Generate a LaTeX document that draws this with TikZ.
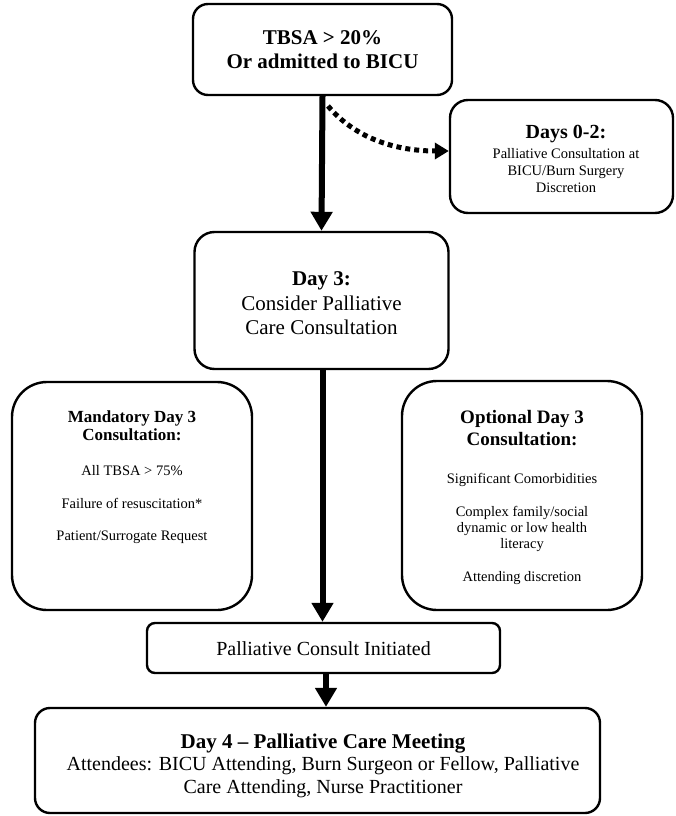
\documentclass[tikz,border=0pt]{standalone}
\usepackage{fontspec}
\setmainfont{Liberation Serif}
\usetikzlibrary{arrows.meta}
\newcommand\fBig{\fontsize{21}{23}\selectfont}
\newcommand\fHead{\fontsize{20}{22}\selectfont}
\newcommand\fMid{\fontsize{17}{18}\selectfont}
\newcommand\fOpt{\fontsize{19}{21}\selectfont}
\newcommand\fSmall{\fontsize{14.5}{17}\selectfont}
\begin{document}
\begin{tikzpicture}[x=1pt,y=-1pt,
  box/.style={draw, line width=2.4pt, rounded corners=#1, inner sep=0pt},
  box/.default=15pt,
  ln/.style={anchor=base, inner sep=0pt},
  mainarr/.style={line width=6pt, -{Triangle[width=21pt,length=19pt]}},
  dotarr/.style={line width=5pt, dash pattern=on 5pt off 4pt, -{Triangle[width=16pt,length=14pt]}}
]
\useasboundingbox (0,0) rectangle (675,816);
% boxes
\node[box=15pt, minimum width=259pt, minimum height=91pt] (top) at (322.5,49.5) {};
\node[box=18pt, minimum width=223pt, minimum height=113pt] (days) at (561.5,156.5) {};
\node[box=20pt, minimum width=254pt, minimum height=137pt] (day3) at (321.5,300.5) {};
\node[box=35pt, minimum width=240pt, minimum height=228pt] (mand) at (132,496) {};
\node[box=35pt, minimum width=240pt, minimum height=229pt] (opt) at (522,495.5) {};
\node[box=8pt, minimum width=353pt, minimum height=50pt] (pci) at (323.5,648) {};
\node[box=15pt, minimum width=565pt, minimum height=105pt] (day4) at (317.5,760.5) {};
% texts
\node[ln, font=\fBig\bfseries] (t1) at (322.5,45) {TBSA > 20\%};
\node[ln, font=\fBig\bfseries] (t2) at (322.5,68) {Or admitted to BICU};

\node[ln, font=\fHead\bfseries] (d1) at (566,138) {Days 0-2:};
\node[ln, font=\fSmall] (d2) at (566,158) {Palliative Consultation at};
\node[ln, font=\fSmall] (d3) at (566,175) {BICU/Burn Surgery};
\node[ln, font=\fSmall] (d4) at (566,192) {Discretion};

\node[ln, font=\fBig\bfseries] (c1) at (321.5,285) {Day 3:};
\node[ln, font=\fBig] (c2) at (321.5,310) {Consider Palliative};
\node[ln, font=\fBig] (c3) at (321.5,334) {Care Consultation};

\node[ln, font=\fMid\bfseries] (m1) at (132,422) {Mandatory Day 3};
\node[ln, font=\fMid\bfseries] (m2) at (132,440) {Consultation:};
\node[ln, font=\fSmall] (m3) at (132,475) {All TBSA > 75\%};
\node[ln, font=\fSmall] (m4) at (132,508) {Failure of resuscitation*};
\node[ln, font=\fSmall] (m5) at (132,540) {Patient/Surrogate Request};

\node[ln, font=\fOpt\bfseries] (o1) at (522,423) {Optional Day 3};
\node[ln, font=\fOpt\bfseries] (o2) at (522,445) {Consultation:};
\node[ln, font=\fSmall] (o3) at (522,483) {Significant Comorbidities};
\node[ln, font=\fSmall] (o4) at (522,516) {Complex family/social};
\node[ln, font=\fSmall] (o5) at (522,532) {dynamic or low health};
\node[ln, font=\fSmall] (o6) at (522,548) {literacy};
\node[ln, font=\fSmall] (o7) at (522,581) {Attending discretion};

\node[ln, font=\fHead] (p1) at (323.5,655) {Palliative Consult Initiated};

\node[ln, font=\fBig\bfseries] (e1) at (323,748) {Day 4 -- Palliative Care Meeting};
\node[ln, font=\fHead] (e2) at (323,770) {Attendees: BICU Attending, Burn Surgeon or Fellow, Palliative};
\node[ln, font=\fHead] (e3) at (323,793) {Care Attending, Nurse Practitioner};
% arrows
\draw[mainarr] (top.south) -- (day3.north);
\draw[mainarr] ([xshift=1pt]day3.south) -- ([xshift=1pt]day3.south |- pci.north);
\draw[mainarr] ([xshift=2.5pt]pci.south) -- ([xshift=2.5pt]pci.south |- day4.north);
\coordinate (branch) at (328,106);
\draw[dotarr] (branch) .. controls (355,138) and (395,151) .. ([yshift=5.5pt]days.west);
\end{tikzpicture}
\end{document}
